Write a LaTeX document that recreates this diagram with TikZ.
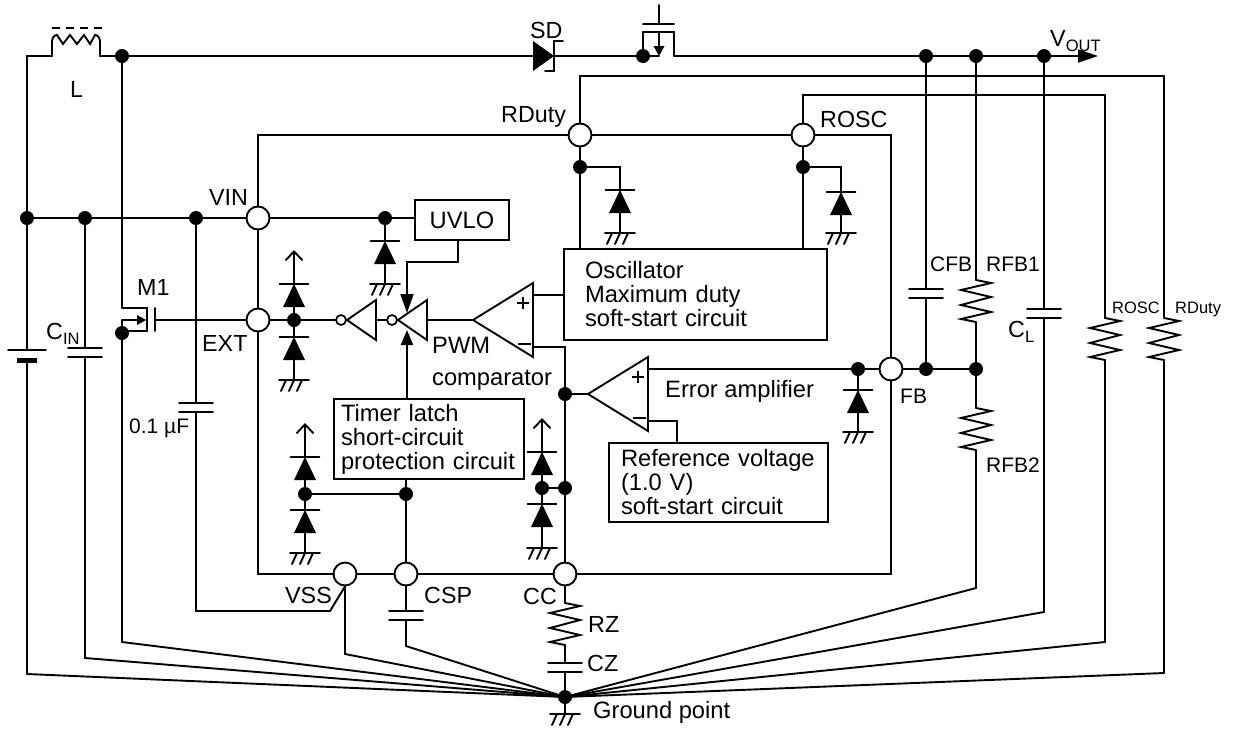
\documentclass[tikz,border=0pt]{standalone}
\usepackage{fontspec}
\setmainfont{Liberation Sans}
\usepackage{tikz}
\usetikzlibrary{arrows.meta}
\usetikzlibrary{positioning}
\newcommand{\subtxt}[1]{\raisebox{-5pt}{\fontsize{16.5}{16.5}\selectfont #1}}
\tikzset{
    wire/.style={
        draw,
        line width=1.9pt,
        line cap=round,
        line join=miter
    },
    pics/esd/.style={code={
        \coordinate (-top) at (0,0);
        \coordinate (-bot) at (0,23);
        \draw[wire] (-14.5,0) -- (14.5,0);
        \fill (0,0) -- (11,23) -- (-11,23) -- cycle;
    }},
    pics/gnd/.style={code={
        \coordinate (-top) at (0,0);
        \draw[wire] (-15,0) -- (15,0);
        \foreach \h in {-8,0,8} {
            \draw[wire] (\h,0) -- (\h-5,11);
        }
    }},
    pics/res/.style={code={
        \coordinate (-top) at (0,0);
        \coordinate (-bot) at (0,42);
        \draw[wire] (0,0) -- (15,3) -- (-15,10) -- (15,17) -- (-15,25) -- (15,32) -- (-15,39) -- (0,42);
    }},
    pics/cap/.style={code={
        \coordinate (-top) at (0,0);
        \coordinate (-bot) at (0,9);
        \draw[wire] (-17,0) -- (17,0);
        \draw[wire] (-17,9) -- (17,9);
    }},
    pics/bat/.style={code={
        \coordinate (-top) at (0,0);
        \coordinate (-bot) at (0,12);
        \draw[wire] (-19,0) -- (19,0);
        \draw[line width=5pt] (-10,10) -- (10,10);
    }},
    pics/coil/.style={code={
        \coordinate (-in) at (0,0);
        \coordinate (-out) at (48,0);
        \draw[wire] (0,0) -- (0,-14) .. controls (0,-18) and (2,-21) .. (5,-21) -- (11,-12) -- (18,-21) -- (25,-12) -- (32,-21) -- (38,-12) -- (43,-21) .. controls (46,-21) and (48,-18) .. (48,-14) -- (48,0);
        \draw[line width=2.8pt,dash pattern=on 8pt off 6pt] (0,-28) -- (50,-28);
    }},
    pics/sbd/.style={code={
        \coordinate (-in) at (-21,0);
        \coordinate (-out) at (0,0);
        \fill (-21,-15) -- (0,0) -- (-21,15) -- cycle;
        \draw[wire] (9,-15) -- (0,-15) -- (0,15) -- (-9,15);
    }},
    pics/pass/.style={code={
        \coordinate (-s) at (-16,0);
        \coordinate (-d) at (15,0);
        \draw[wire] (-16,0) -- (-16,-24) -- (15,-24) -- (15,0);
        \draw[wire] (-16,-32) -- (15,-32);
        \draw[wire] (0,-32) -- (0,-51);
        \draw[wire] (0,-24) -- (0,-8);
        \draw[wire] (-16,0) -- (0,0);
        \fill (0,0) -- (-5.5,-10) -- (5.5,-10) -- cycle;
    }},
    pics/swm/.style={code={
        \coordinate (-d) at (-25,-12);
        \coordinate (-s) at (-25,0);
        \coordinate (-g) at (8,0);
        \draw[wire] (-25,-12) -- (0,-12) -- (0,11) -- (-25,11);
        \draw[wire] (-25,0) -- (-8,0);
        \fill (-1,0) -- (-10,-5) -- (-10,5) -- cycle;
        \draw[wire] (8,-12) -- (8,11);
    }},
    pics/invgate/.style={code={
        \coordinate (-in) at (0,0);
        \coordinate (-out) at (-40,0);
        \draw[wire] (0,-20) -- (-29,0) -- (0,20) -- cycle;
        \draw[line width=1.7pt] (-35,0) circle (5);
    }},
    pics/opamp/.style={code={
        \coordinate (-ap) at (-60,0);
        \coordinate (-pl) at (0,-25);
        \coordinate (-mi) at (0,27);
        \draw[wire] (0,-37) -- (-60,0) -- (0,37) -- cycle;
        \draw[line width=1.2pt] (-16,-17) -- (-4,-17);
        \draw[line width=1.2pt] (-10,-23) -- (-10,-11);
        \draw[line width=1.2pt] (-15,24) -- (-2,24);
    }}
}

\begin{document}
\begin{tikzpicture}[x=1pt,y=-1pt]
  % Define overall style for the circuit
  \tikzset{
    jdot/.style={
      circle,
      fill=black,
      minimum size=14pt,
      inner sep=0pt
    },
    pinc/.style={
      circle,
      draw,
      fill=white,
      line width=1.9pt,
      minimum size=23pt,
      inner sep=0pt
    },
    cblock/.style={
      draw,
      line width=1.9pt,
      align=left,
      inner xsep=0pt,
      inner ysep=0pt,
      font=\fontsize{23.7}{24}\selectfont
    },
    lbl/.style={
      anchor=base west,
      inner sep=0pt,
      font=\fontsize{23.3}{23.3}\selectfont
    },
    lblmid/.style={
      lbl,
      font=\fontsize{21}{21}\selectfont
    },
    lblsmall/.style={
      lbl,
      font=\fontsize{16.5}{16.5}\selectfont
    }
  }
  \useasboundingbox (0,0) rectangle (1233,729);

  % Chip pins
  \node[pinc] (vinp) at (258,218) {};
  \node[pinc] (extp) at (258,320) {};
  \node[pinc] (rdutyp) at (580,135) {};
  \node[pinc] (roscp) at (803,135) {};
  \node[pinc] (fbp) at (891,369) {};
  \node[pinc] (vssp) at (345,574) {};
  \node[pinc] (cspp) at (406,574) {};
  \node[pinc] (ccp) at (565,574) {};

  % Junction dots
  \foreach \nm/\px/\py in {dL/122/56, dIn/27/218, dCin/85/218, dBy/196/218, dUv/385/218,
      dExt/294/320, dM1/122/333, dTop/643/56, dCfb/926/56, dRfb/976/56, dCl/1044/56,
      dDuty/580/167, dOsc/803/167, dFb/858/369, dCfbb/926/369, dDiv/976/369,
      dCmp/565/394, dCc/565/488, dClamp/542/488, dTim/406/494, dTc/305/494, dGnd/565/697} {
    \node[jdot] (\nm) at (\px,\py) {};
  }

  % Blocks
  \node[cblock, minimum width=94pt, minimum height=40pt, align=center] (uvlo) at (462,220) {UVLO};
  \node[cblock, minimum width=263pt, minimum height=91pt, text width=221pt] (osc) at (695.5,294.5) {Oscillator\\Maximum duty\\soft-start circuit};
  \node[cblock, minimum width=190pt, minimum height=80pt, text width=176pt] (timer) at (429,439) {Timer latch\\short-circuit\\protection circuit};
  \node[cblock, minimum width=219pt, minimum height=79pt, text width=195pt] (refv) at (718.5,482.5) {Reference voltage\\(1.0 V)\\soft-start circuit};

  % Parts on the wires
  \pic (lind) at (52,56) {coil};
  \pic (sdi) at (554,56) {sbd};
  \pic (qp) at (659,56) {pass};
  \pic (qm) at (147,320) {swm};
  \pic (bat) at (27,350) {bat};
  \pic (cin) at (85,348) {cap};
  \pic (cby) at (196,403) {cap};
  \pic (cfb) at (926,289) {cap};
  \pic (cl) at (1044,309) {cap};
  \pic (ccsp) at (406,611) {cap};
  \pic (cz) at (565,663) {cap};
  \pic (rfba) at (976,280) {res};
  \pic (rfbb) at (976,408) {res};
  \pic (rro) at (1105,318) {res};
  \pic (rrd) at (1164,318) {res};
  \pic (rz) at (565,603) {res};
  \pic (gpt) at (565,714) {gnd};
  \pic (inva) at (376,320) {invgate};
  \pic (invb) at (427,320) {invgate};
  \pic (pwm) at (533,320) {opamp};
  \pic (err) at (648,394) {opamp};

  % Bend points
  \coordinate (vout) at (1098,56);
  \coordinate (dutyC) at (1164,76);
  \coordinate (oscC) at (1105,95);
  \coordinate (bendIn) at (27,674);
  \coordinate (bendCin) at (85,658);
  \coordinate (bendM1) at (122,642);
  \coordinate (bendVss) at (345,654);
  \coordinate (bendCsp) at (406,646);
  \coordinate (bendDiv) at (976,588);
  \coordinate (bendCl) at (1044,612);
  \coordinate (bendRo) at (1105,642);
  \coordinate (bendRd) at (1164,673);
  \coordinate (bendBy) at (196,611);
  \coordinate (kinkBy) at (330,611);
  \coordinate (refIn) at (677,443);
  \coordinate (uvBend) at (458,262);
  \coordinate (tsT) at (407,313);
  \coordinate (tsB) at (407,330);

  % Clamp diodes down to ground
  \foreach \nm/\px/\py/\gy/\jn in {cUv/385/241/284/dUv, cExtD/294/337/380/dExt, cRd/620/190/233/dDuty,
      cRo/841/192/233/dOsc, cFb/858/390/432/dFb, cTcD/305/510/553/dTc, cCcD/542/504/548/dClamp} {
    \pic (\nm) at (\px,\py) {esd};
    \pic (g\nm) at (\px,\gy) {gnd};
    \draw[wire] (\jn.center) -| (\nm-top);
    \draw[wire] (\nm-bot) -- (g\nm-top);
  }

  % Clamp diodes up to the supply arrow
  \foreach \nm/\px/\py/\ty/\jn in {cExtU/294/284/250/dExt, cTcU/305/457/423/dTc, cCcU/542/452/418/dClamp} {
    \pic (\nm) at (\px,\py) {esd};
    \coordinate (\nm-tip) at (\px,\ty);
    \draw[wire,-{Straight Barb[length=9pt,width=17pt]}] (\nm-top) -- (\nm-tip);
    \draw[wire] (\nm-bot) -- (\jn);
  }

  % Chip outline
  \draw[wire] (vinp) |- (rdutyp);
  \draw[wire] (rdutyp) -- (roscp);
  \draw[wire] (roscp) -| (fbp);
  \draw[wire] (fbp) |- (ccp);
  \draw[wire] (ccp) -- (cspp);
  \draw[wire] (cspp) -- (vssp);
  \draw[wire] (vssp) -| (extp);
  \draw[wire] (extp) -- (vinp);

  % Output rail
  \draw[wire] (dIn) |- (lind-in);
  \draw[wire] (lind-out) -- (dL);
  \draw[wire] (dL) -- (sdi-in);
  \draw[wire] (sdi-out) -- (dTop);
  \draw[wire] (qp-d) -- (dCfb);
  \draw[wire] (dCfb) -- (dRfb);
  \draw[wire] (dRfb) -- (dCl);
  \draw[wire,-{Triangle[length=20pt,width=13pt]}] (dCl) -- (vout);

  % Input rail
  \draw[wire] (dIn) -- (dCin);
  \draw[wire] (dCin) -- (dBy);
  \draw[wire] (dBy) -- (vinp);
  \draw[wire] (vinp) -- (dUv);
  \draw[wire] (dUv) -- (dUv -| uvlo.west);
  \draw[wire] (dIn) -- (bat-top);
  \draw[wire] (bat-bot) -- (bendIn);
  \draw[wire] (dCin) -- (cin-top);
  \draw[wire] (cin-bot) -- (bendCin);
  \draw[wire] (dBy) -- (cby-top);
  \draw[wire] (cby-bot) -- (bendBy) -- (kinkBy) -- (vssp.south);

  % Switch and gate drive
  \draw[wire] (dL) -- (qm-d);
  \draw[wire] (dM1) -- (qm-s);
  \draw[wire] (dM1) -- (bendM1);
  \draw[wire] (qm-g) -- (extp);
  \draw[wire] (extp) -- (dExt);
  \draw[wire] (dExt) -- (inva-out);
  \draw[wire] (inva-in) -- (invb-out);
  \draw[wire] (invb-in) -- (pwm-ap);
  \draw[wire] (pwm-pl) -- (osc.west |- pwm-pl);
  \draw[wire] (pwm-mi) -| (dCmp);
  \draw[wire] (dCmp) -- (dCc);
  \draw[wire] (dCc) -- (ccp);
  \draw[wire] (dClamp) -- (dCc);
  \draw[wire] (dCmp) -- (err-ap);
  \draw[wire] (err-pl) -- (dFb);
  \draw[wire] (dFb) -- (fbp);
  \draw[wire] (err-mi) -| (refIn);
  \draw[wire] (uvBend |- uvlo.south) -- (uvBend);
  \draw[wire,-{Triangle[length=19pt,width=13pt]}] (uvBend) -| (tsT);
  \draw[wire,-{Triangle[length=15pt,width=12pt]}] (timer.north -| tsB) -- (tsB);
  \draw[wire] (dTim) -- (timer.south -| dTim);
  \draw[wire] (dTc) -- (dTim);
  \draw[wire] (dTim) -- (cspp);

  % Oscillator pins and external resistors
  \draw[wire] (rdutyp) -- (dDuty);
  \draw[wire] (dDuty) -- (osc.north -| dDuty);
  \draw[wire] (roscp) -- (dOsc);
  \draw[wire] (dOsc) -- (osc.north -| dOsc);
  \draw[wire] (rdutyp) |- (dutyC);
  \draw[wire] (dutyC) -- (rrd-top);
  \draw[wire] (rrd-bot) -- (bendRd);
  \draw[wire] (roscp) |- (oscC);
  \draw[wire] (oscC) -- (rro-top);
  \draw[wire] (rro-bot) -- (bendRo);

  % Feedback divider
  \draw[wire] (fbp) -- (dCfbb);
  \draw[wire] (dCfbb) -- (dDiv);
  \draw[wire] (dCfb) -- (cfb-top);
  \draw[wire] (cfb-bot) -- (dCfbb);
  \draw[wire] (dRfb) -- (rfba-top);
  \draw[wire] (rfba-bot) -- (dDiv);
  \draw[wire] (dDiv) -- (rfbb-top);
  \draw[wire] (rfbb-bot) -- (bendDiv);
  \draw[wire] (dCl) -- (cl-top);
  \draw[wire] (cl-bot) -- (bendCl);

  % Lower pins and the ground point
  \draw[wire] (vssp) -- (bendVss);
  \draw[wire] (cspp) -- (ccsp-top);
  \draw[wire] (ccsp-bot) -- (bendCsp);
  \draw[wire] (ccp) -- (rz-top);
  \draw[wire] (rz-bot) -- (cz-top);
  \draw[wire] (cz-bot) -- (dGnd);
  \draw[wire] (dGnd) -- (gpt-top);
  \foreach \b in {bendIn,bendCin,bendM1,bendVss,bendCsp,bendDiv,bendCl,bendRo,bendRd} {
    \draw[wire] (\b) -- (dGnd);
  }

  % Labels
  \node[lbl] (tL) at (70,97) {L};
  \node[lbl] (tVin) at (209,205) {VIN};
  \node[lbl] (tDuty) at (501,122) {RDuty};
  \node[lbl] (tOsc) at (820,127) {ROSC};
  \node[lbl] (tSd) at (530,38) {SD};
  \node[lbl] (tVout) at (1050,46) {V\subtxt{OUT}};
  \node[lbl] (tM1) at (137,295) {M1};
  \node[lbl] (tCin) at (46,339) {C\subtxt{IN}};
  \node[lbl] (tExt) at (202,351) {EXT};
  \node[lbl,font=\fontsize{21}{21}\selectfont] (tBy) at (129,433) {0.1 µF};
  \node[lbl,font=\fontsize{23.7}{23.7}\selectfont] (tPwm) at (432,353) {PWM};
  \node[lbl,font=\fontsize{23.7}{23.7}\selectfont] (tCmp) at (432,385) {comparator};
  \node[lbl,font=\fontsize{23.7}{23.7}\selectfont] (tErr) at (665,397) {Error amplifier};
  \node[lblmid] (tFb) at (900,403) {FB};
  \node[lblmid] (tCfb) at (930,271) {CFB};
  \node[lblmid] (tRa) at (986,271) {RFB1};
  \node[lbl] (tCl) at (1008,337) {C\subtxt{L}};
  \node[lblsmall] (tRo) at (1112,313) {ROSC};
  \node[lblsmall] (tRd) at (1175,313) {RDuty};
  \node[lblmid] (tRb) at (986,472) {RFB2};
  \node[lbl] (tVss) at (285,603) {VSS};
  \node[lbl] (tCsp) at (424,603) {CSP};
  \node[lbl] (tCc) at (523,604) {CC};
  \node[lbl] (tRz) at (588,632) {RZ};
  \node[lbl] (tCz) at (587,671) {CZ};
  \node[lbl,font=\fontsize{23.7}{23.7}\selectfont] (tGnd) at (593,718) {Ground point};
\end{tikzpicture}
\end{document}
